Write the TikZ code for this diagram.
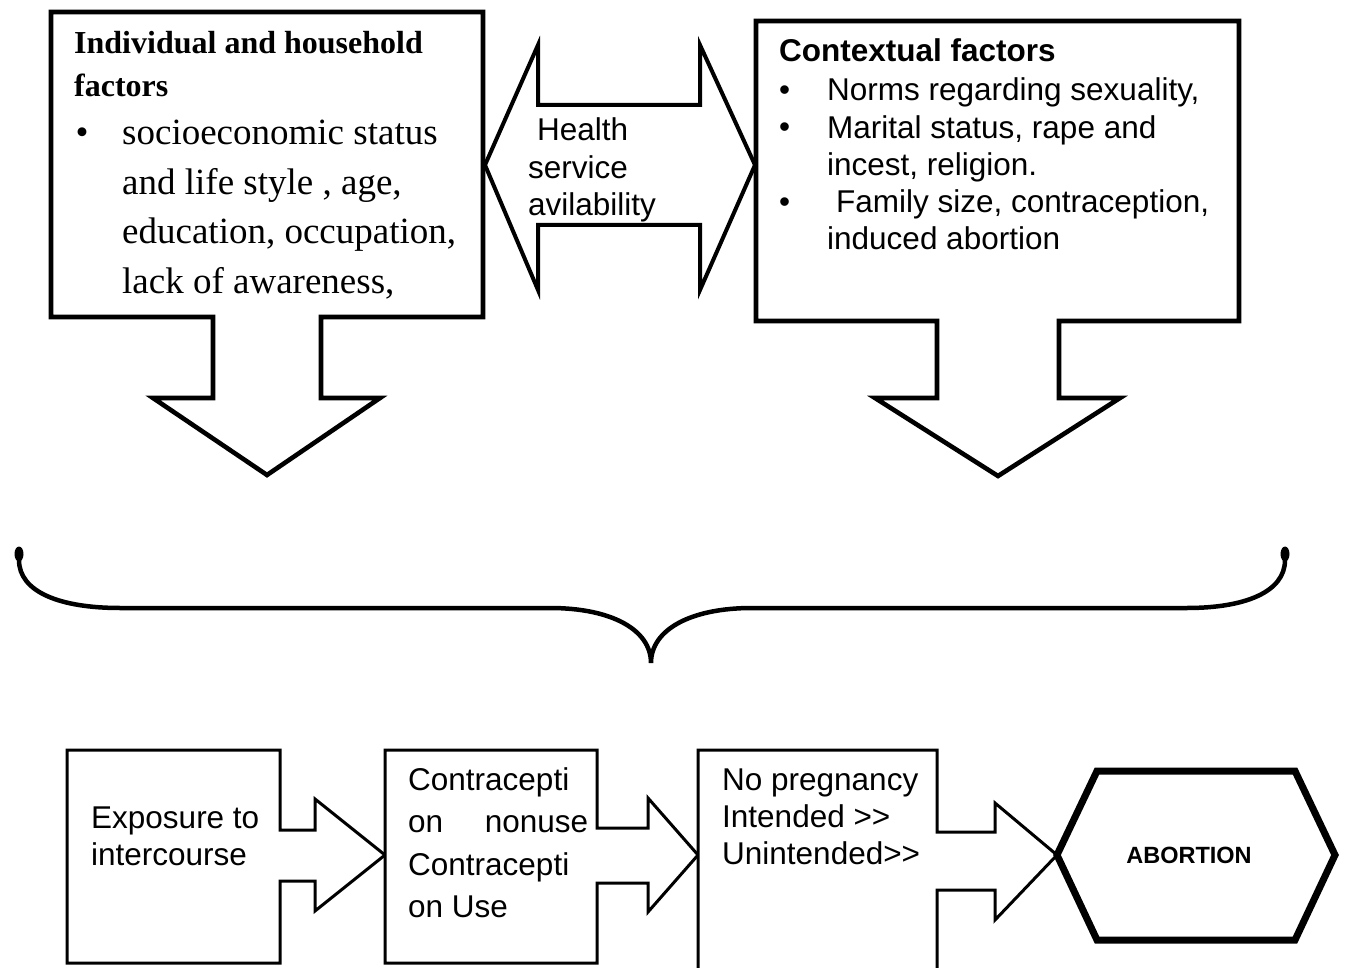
\documentclass[tikz,border=0pt]{standalone}
\usepackage{fontspec}
\setmainfont{Liberation Serif}
\newfontfamily\arialf{Liberation Sans}
\begin{document}
\begin{tikzpicture}[x=1pt,y=-1pt,line join=miter,
  bigshape/.style={line width=4.6pt,fill=white},
  dblarrow/.style={line width=4pt,fill=white},
  smallshape/.style={line width=3pt,fill=white},
  hexshape/.style={line width=7pt,fill=white},
  bracestyle/.style={line width=4.5pt,line cap=round},
  txt/.style={inner sep=0pt,anchor=base west},
  sansbig/.style={txt,font=\arialf\fontsize{31.5}{37.25}\selectfont},
  sansbottom/.style={txt,font=\arialf\fontsize{31.5}{37}\selectfont},
  serifbody/.style={txt,font=\fontsize{37}{49.5}\selectfont},
  seriftitle/.style={txt,font=\bfseries\fontsize{32}{43}\selectfont}]
\useasboundingbox (0,0) rectangle (1347,968);
\fill[white] (0,0) rectangle (1347,968);

% ---- top left box with down arrow
\draw[bigshape] (213,317) -- (51,317) -- (51,12) -- (483,12) -- (483,317) -- (321,317)
  -- (321,398) -- (380,398) -- (267,475) -- (153,398) -- (213,398) -- cycle;
% ---- top right box with down arrow
\draw[bigshape] (937,321) -- (756,321) -- (756,21) -- (1239,21) -- (1239,321) -- (1059,321)
  -- (1059,398) -- (1120,398) -- (998,476) -- (875,398) -- (937,398) -- cycle;
% ---- double arrow
\draw[dblarrow] (485,165) -- (538,45) -- (538,105) -- (700,105) -- (700,45) -- (755,165)
  -- (700,290) -- (700,225) -- (538,225) -- (538,290) -- cycle;

% ---- texts top
\node[seriftitle] (indT) at (74,54) {\parbox[t]{420pt}{Individual and household\\factors}};
\node[serifbody] (indB) at (75.5,145) {\textbullet};
\node[serifbody] (indL) at (122,145) {\parbox[t]{360pt}{socioeconomic status\\and life style , age,\\education, occupation,\\lack of awareness,}};

\node[sansbig] (hsT) at (528,141) {\parbox[t]{200pt}{\hspace*{9pt}Health\\service\\avilability}};

\node[sansbig] (ctxT) at (779,62) {\bfseries Contextual factors};
\node[sansbig] (ctxB1) at (779,101) {\textbullet};
\node[sansbig] (ctxB2) at (779,138) {\textbullet};
\node[sansbig] (ctxB3) at (779,213) {\textbullet};
\node[sansbig] (ctxL) at (827,101) {\parbox[t]{400pt}{Norms regarding sexuality,\\Marital status, rape and\\incest, religion.\\\hspace*{9pt}Family size, contraception,\\induced abortion}};

% ---- brace
\draw[bracestyle] (19,560) .. controls (19,592) and (60,608) .. (120,608) -- (550,608)
  .. controls (612,608) and (651,630) .. (651,663)
  .. controls (651,630) and (690,608) .. (752,608) -- (1187,608)
  .. controls (1245,608) and (1285,592) .. (1285,560);
\fill (19,554) ellipse [x radius=4.5, y radius=7.5];
\fill (1285,554) ellipse [x radius=4.5, y radius=7.5];

% ---- bottom row
\draw[smallshape] (280,830) -- (280,750) -- (67,750) -- (67,963) -- (280,963) -- (280,881)
  -- (315,881) -- (315,911) -- (385,855) -- (315,799) -- (315,830) -- cycle;
\draw[smallshape] (597,828) -- (597,750) -- (385,750) -- (385,963) -- (597,963) -- (597,883)
  -- (648,883) -- (648,912) -- (698,855) -- (648,798) -- (648,828) -- cycle;
\draw[smallshape] (937,832) -- (937,750) -- (698,750) -- (698,975) -- (937,975) -- (937,890)
  -- (995,890) -- (995,920) -- (1057,855) -- (995,803) -- (995,832) -- cycle;
\draw[hexshape] (1057,855) -- (1097,771) -- (1295,771) -- (1335,855) -- (1295,940) -- (1097,940) -- cycle;

\node[sansbottom] (expT) at (91,828) {\parbox[t]{180pt}{Exposure to\\intercourse}};
\node[txt,font=\arialf\fontsize{31.5}{42.5}\selectfont] (conT) at (408,790)
  {\parbox[t]{185pt}{Contracepti\\\makebox[180pt][l]{on\hfill nonuse}\\Contracepti\\on Use}};
\node[sansbottom] (pregT) at (722,790) {\parbox[t]{215pt}{No pregnancy\\Intended >\kern0pt>\\Unintended>\kern0pt>}};
\node[font=\arialf\bfseries\fontsize{23.5}{28}\selectfont,inner sep=0pt] (abT) at (1189,855) {ABORTION};
\end{tikzpicture}
\end{document}
